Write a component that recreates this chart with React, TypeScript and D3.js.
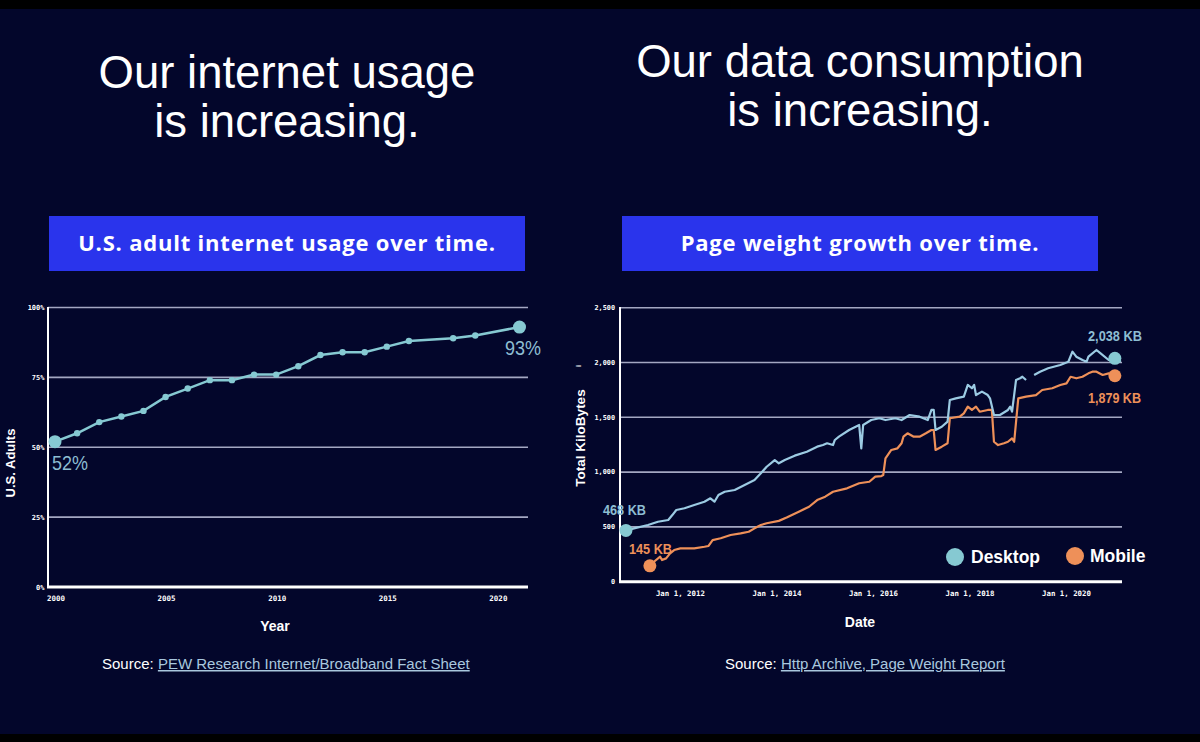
import React from "react";
import * as d3 from "d3";

// ---------- Left chart data (PEW) ----------
const pewYears = [2000, 2001, 2002, 2003, 2004, 2005, 2006, 2007, 2008, 2009, 2010, 2011, 2012, 2013, 2014, 2015, 2016, 2018, 2019, 2021];
const pewValues = [52, 55, 59, 61, 63, 68, 71, 74, 74, 76, 76, 79, 83, 84, 84, 86, 88, 89, 90, 93];
const pewYTicks = [0, 25, 50, 75, 100];
const pewXTicks = [2000, 2005, 2010, 2015, 2020];

// ---------- Right chart data (HTTP Archive) ----------
const desktopDates = [
  "2010-11-15", "2011-01-15", "2011-05-01", "2011-07-15", "2011-10-01", "2011-11-01", "2011-12-01",
  "2012-02-01", "2012-04-15", "2012-07-01", "2012-08-15", "2012-09-15", "2012-10-15", "2012-12-01",
  "2013-02-15", "2013-05-01", "2013-07-15", "2013-09-01", "2013-10-15", "2013-12-15",
  "2014-01-15", "2014-03-01", "2014-05-15", "2014-08-15", "2014-11-01", "2014-12-15",
  "2015-01-15", "2015-03-01", "2015-03-15", "2015-04-15", "2015-07-01", "2015-09-15", "2015-10-01", "2015-10-15", "2015-12-15",
  "2016-02-15", "2016-04-01", "2016-06-15", "2016-08-01", "2016-10-01", "2016-12-15",
  "2017-02-15", "2017-03-15", "2017-04-01", "2017-04-15", "2017-06-01", "2017-07-15", "2017-08-01", "2017-09-15", "2017-11-15", "2017-12-15",
  "2018-01-15", "2018-02-01", "2018-02-15", "2018-04-01", "2018-05-15", "2018-06-01", "2018-07-01", "2018-08-15", "2018-10-15", "2018-11-01", "2018-11-15", "2018-12-15",
  "2019-01-15", "2019-02-01", "2019-03-01", "2019-04-01", "2019-05-01", "2019-06-15", "2019-08-15", "2019-11-15",
  "2020-01-15", "2020-02-15", "2020-03-15", "2020-05-01", "2020-06-01", "2020-06-15", "2020-08-15", "2020-09-15", "2020-11-15",
  "2021-01-01", "2021-02-15",
];
const desktopKB: (number | null)[] = [
  468, 487, 517, 547, 563, 608, 654,
  670, 700, 730, 761, 730, 791, 821,
  837, 882, 928, 989, 1049, 1110,
  1080, 1110, 1150, 1186, 1232, 1247,
  1263, 1247, 1293, 1323, 1384, 1430, 1217, 1430, 1475,
  1491, 1475, 1491, 1475, 1521, 1506,
  1475, 1567, 1567, 1384, 1414, 1460, 1658, 1673, 1688, 1795,
  1765, 1795, 1703, 1734, 1703, 1673, 1521, 1521, 1567, 1597, 1551, 1840,
  1856, 1870, 1840, null, 1886, 1916, 1947, 1977,
  2007, 2099, 2053, 2023, 2007, 2053, 2114, 2084, 2023,
  2038, 2007,
];

const mobileDates = [
  "2011-05-15", "2011-06-15", "2011-08-01", "2011-08-15", "2011-09-15", "2011-10-15", "2011-11-15",
  "2012-01-01", "2012-04-15", "2012-07-01", "2012-08-01", "2012-09-01", "2012-11-01",
  "2013-01-15", "2013-04-01", "2013-06-01", "2013-07-15", "2013-09-01", "2013-10-15",
  "2014-01-15", "2014-03-15", "2014-06-15", "2014-09-01", "2014-11-01",
  "2015-01-01", "2015-03-01", "2015-06-15", "2015-09-15", "2015-12-01",
  "2016-01-15", "2016-03-01", "2016-03-15", "2016-04-01", "2016-05-15", "2016-07-01", "2016-08-01", "2016-08-15", "2016-09-15", "2016-11-01", "2016-12-15",
  "2017-02-01", "2017-03-15", "2017-04-01", "2017-04-15", "2017-06-01", "2017-07-15", "2017-08-01", "2017-10-15", "2017-11-15", "2017-12-15",
  "2018-01-15", "2018-02-15", "2018-03-15", "2018-05-15", "2018-06-15", "2018-07-01", "2018-08-01", "2018-09-15", "2018-10-15", "2018-11-15", "2018-12-01",
  "2019-01-01", "2019-03-01", "2019-05-15", "2019-07-01", "2019-09-15", "2019-11-15",
  "2020-01-01", "2020-02-01", "2020-03-15", "2020-05-01", "2020-06-15", "2020-07-15", "2020-08-15", "2020-10-01", "2020-11-15",
  "2021-01-01",
];
const mobileKB = [
  145, 182, 228, 198, 213, 259, 289,
  304, 304, 319, 326, 380, 396,
  426, 441, 456, 487, 517, 533,
  555, 585, 639, 684, 745,
  776, 821, 852, 898, 912,
  958, 964, 973, 1126, 1202, 1217, 1263, 1323, 1354, 1323, 1323,
  1354, 1384, 1384, 1202, 1232, 1263, 1491, 1506, 1536, 1597,
  1567, 1597, 1551, 1567, 1567, 1277, 1247, 1263, 1277, 1308, 1277,
  1673, 1688, 1703, 1749, 1765, 1795,
  1810, 1870, 1856, 1870, 1901, 1916, 1916, 1886, 1901,
  1879,
];
const kbYTicks = [0, 500, 1000, 1500, 2000, 2500];
const kbXTickYears = [2012, 2014, 2016, 2018, 2020];

// ---------- styles ----------
const BG = "#03062b";
const GRID = "#a4a7c2";
const TEAL = "#86c9d2";
const TEAL_LABEL = "#8dbdd2";
const DESK = "#9ccbe3";
const ORANGE = "#ee9059";
const BOX = "#2a34ec";
const SANS = "'Liberation Sans', Arial, sans-serif";
const WIDE = "'Open Sans', 'Liberation Sans', sans-serif";
const NARROW = "'Liberation Sans Narrow', 'Liberation Sans', sans-serif";
const MONO = "'DejaVu Sans Mono', 'Liberation Mono', monospace";

const parse = d3.timeParse("%Y-%m-%d");

export default function App() {
  // Left chart scales
  const lx = d3.scaleLinear().domain([2000, 2021]).range([55, 519.5]);
  const ly = d3.scaleLinear().domain([0, 100]).range([587, 307.5]);
  const pew = pewYears.map((y, i) => ({ x: y, v: pewValues[i] }));
  const pewLine = d3.line<{ x: number; v: number }>().x((d) => lx(d.x)).y((d) => ly(d.v))(pew) || "";

  // Right chart scales
  const rx = d3.scaleTime().domain([new Date(2010, 9, 1), new Date(2021, 1, 24)]).range([620, 1122]);
  const ry = d3.scaleLinear().domain([0, 2500]).range([581.7, 307.7]);
  const desk = desktopDates.map((d, i) => ({ t: parse(d) as Date, v: desktopKB[i] }));
  const mob = mobileDates.map((d, i) => ({ t: parse(d) as Date, v: mobileKB[i] as number | null }));
  const kbLine = d3
    .line<{ t: Date; v: number | null }>()
    .defined((d) => d.v !== null)
    .x((d) => rx(d.t))
    .y((d) => ry(d.v as number));
  const deskPath = kbLine(desk) || "";
  const mobPath = kbLine(mob) || "";

  const deskFirst = desk[0];
  const deskEnd = desk[desk.length - 2];
  const mobFirst = mob[0];
  const mobEnd = mob[mob.length - 1];
  const fmt = d3.format(",");

  return (
    <svg width={1200} height={742} style={{ position: "absolute", left: 0, top: 0 }} xmlns="http://www.w3.org/2000/svg">
      <rect x={0} y={0} width={1200} height={742} fill={BG} />
      <rect x={0} y={0} width={1200} height={9} fill="#000" />
      <rect x={0} y={734} width={1200} height={8} fill="#000" />

      {/* Titles */}
      <g fill="#fff" fontFamily={SANS} fontSize={45.5} textAnchor="middle">
        <text x={287} y={88}>Our internet usage</text>
        <text x={287} y={137}>is increasing.</text>
        <text x={860} y={77}>Our data consumption</text>
        <text x={860} y={126}>is increasing.</text>
      </g>

      {/* Blue boxes */}
      <rect x={49} y={216} width={476} height={55} fill={BOX} />
      <rect x={622} y={216} width={476} height={55} fill={BOX} />
      <g fill="#fff" fontFamily={WIDE} fontWeight="bold" fontSize={22} letterSpacing={0.8} textAnchor="middle">
        <text x={287} y={251}>U.S. adult internet usage over time.</text>
        <text x={860} y={251}>Page weight growth over time.</text>
      </g>

      {/* ---------- Left chart ---------- */}
      {pewYTicks.filter((t) => t > 0).map((t) => (
        <line key={"lg" + t} x1={48} x2={528} y1={ly(t)} y2={ly(t)} stroke={GRID} strokeWidth={1.6} />
      ))}
      <line x1={48} x2={48} y1={307} y2={588} stroke="#fff" strokeWidth={2} />
      <line x1={47} x2={528} y1={587} y2={587} stroke="#fff" strokeWidth={3} />
      <g fill="#fff" fontFamily={MONO} fontWeight="bold" fontSize={7} textAnchor="end">
        {pewYTicks.map((t) => (
          <text key={"lyt" + t} x={44.5} y={ly(t) + 2.5}>{t + "%"}</text>
        ))}
      </g>
      <g fill="#fff" fontFamily={MONO} fontWeight="bold" fontSize={7.5} textAnchor="middle">
        {pewXTicks.map((t) => (
          <text key={"lxt" + t} x={lx(t) + 1} y={601}>{t}</text>
        ))}
      </g>
      <text x={275} y={631} fill="#fff" fontFamily={SANS} fontWeight="bold" fontSize={14} textAnchor="middle">Year</text>
      <text transform="translate(15,463) rotate(-90)" fill="#fff" fontFamily={SANS} fontWeight="bold" fontSize={13} textAnchor="middle">U.S. Adults</text>

      <path d={pewLine} fill="none" stroke={TEAL} strokeWidth={2.5} />
      {pew.map((d, i) => (
        <circle key={"pd" + i} cx={lx(d.x)} cy={ly(d.v)} r={i === 0 || i === pew.length - 1 ? 6.5 : 3.2} fill={TEAL} />
      ))}
      <g fill={TEAL_LABEL} fontFamily={NARROW} fontSize={21}>
        <text x={52} y={470} textLength={36} lengthAdjust="spacingAndGlyphs">{pewValues[0] + "%"}</text>
        <text x={505} y={355} textLength={36} lengthAdjust="spacingAndGlyphs">{pewValues[pewValues.length - 1] + "%"}</text>
      </g>

      {/* ---------- Right chart ---------- */}
      {kbYTicks.filter((t) => t > 0).map((t) => (
        <line key={"rg" + t} x1={620} x2={1122} y1={ry(t)} y2={ry(t)} stroke={GRID} strokeWidth={1.6} />
      ))}
      <line x1={620} x2={620} y1={307} y2={582} stroke="#fff" strokeWidth={2} />
      <line x1={619} x2={1122} y1={581.7} y2={581.7} stroke="#fff" strokeWidth={3} />
      <g fill="#fff" fontFamily={MONO} fontWeight="bold" fontSize={6.8} textAnchor="end">
        {kbYTicks.map((t) => (
          <text key={"ryt" + t} x={615} y={ry(t) + 2.3}>{fmt(t)}</text>
        ))}
      </g>
      <g fill="#fff" fontFamily={MONO} fontWeight="bold" fontSize={7.4} textAnchor="middle">
        {kbXTickYears.map((t) => (
          <text key={"rxt" + t} x={rx(new Date(t, 0, 1))} y={596}>{"Jan 1, " + t}</text>
        ))}
      </g>
      <text x={860} y={627} fill="#fff" fontFamily={SANS} fontWeight="bold" fontSize={14} textAnchor="middle">Date</text>
      <text transform="translate(585,438) rotate(-90)" fill="#fff" fontFamily={SANS} fontWeight="bold" fontSize={13.5} textAnchor="middle">Total KiloBytes</text>
      <text transform="translate(581,366) rotate(-90)" fill="#fff" fontFamily={SANS} fontWeight="bold" fontSize={7} textAnchor="middle">i</text>

      <path d={mobPath} fill="none" stroke={ORANGE} strokeWidth={2.2} strokeLinejoin="round" />
      <path d={deskPath} fill="none" stroke={DESK} strokeWidth={2.2} strokeLinejoin="round" />
      <circle cx={rx(deskFirst.t)} cy={ry(deskFirst.v as number)} r={6.5} fill={TEAL} />
      <circle cx={rx(deskEnd.t)} cy={ry(deskEnd.v as number)} r={6.5} fill={TEAL} />
      <circle cx={rx(mobFirst.t)} cy={ry(mobFirst.v as number)} r={6.5} fill={ORANGE} />
      <circle cx={rx(mobEnd.t)} cy={ry(mobEnd.v as number)} r={6.5} fill={ORANGE} />

      <g fontFamily={NARROW} fontSize={14} fontWeight="bold">
        <text x={603} y={515} fill={TEAL_LABEL} textLength={43} lengthAdjust="spacingAndGlyphs">{fmt(deskFirst.v as number) + " KB"}</text>
        <text x={629} y={554} fill={ORANGE} textLength={43} lengthAdjust="spacingAndGlyphs">{fmt(mobFirst.v as number) + " KB"}</text>
        <text x={1088} y={341} fill={TEAL_LABEL} textLength={54} lengthAdjust="spacingAndGlyphs">{fmt(deskEnd.v as number) + " KB"}</text>
        <text x={1088} y={403} fill={ORANGE} textLength={53} lengthAdjust="spacingAndGlyphs">{fmt(mobEnd.v as number) + " KB"}</text>
      </g>

      {/* Legend */}
      <circle cx={955} cy={557} r={9} fill={TEAL} />
      <text x={971} y={563} fill="#fff" fontFamily={SANS} fontWeight="bold" fontSize={17.5}>Desktop</text>
      <circle cx={1075} cy={556} r={9} fill={ORANGE} />
      <text x={1090} y={562} fill="#fff" fontFamily={SANS} fontWeight="bold" fontSize={17.5}>Mobile</text>

      {/* Sources */}
      <g fontFamily={NARROW} fontSize={15}>
        <text x={102} y={669} fill="#fff">
          Source: <tspan fill="#a9c8df" style={{ textDecoration: "underline" }}>PEW Research Internet/Broadband Fact Sheet</tspan>
        </text>
        <text x={725} y={669} fill="#fff">
          Source: <tspan fill="#a9c8df" style={{ textDecoration: "underline" }}>Http Archive, Page Weight Report</tspan>
        </text>
      </g>
    </svg>
  );
}
